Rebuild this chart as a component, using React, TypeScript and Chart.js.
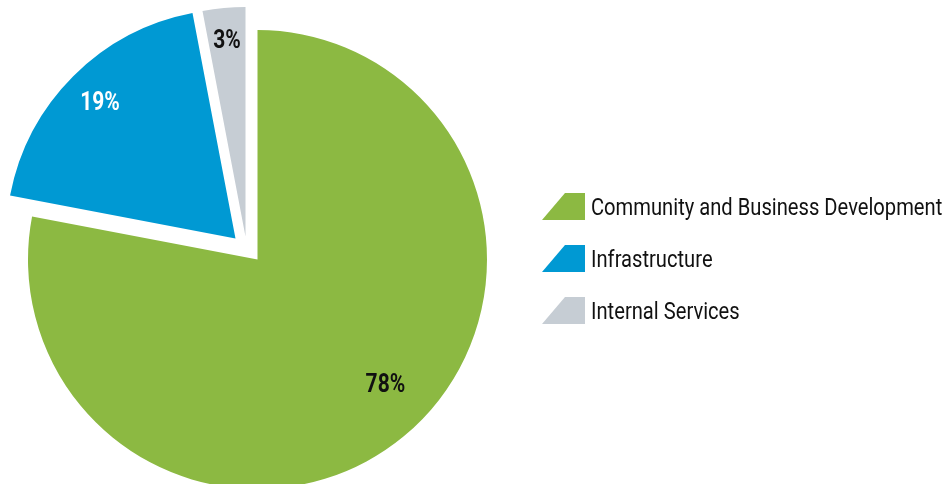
import React, { useEffect, useRef } from "react";
import { Chart, registerables } from "chart.js";

Chart.register(...registerables);

const categories = ["Community and Business Development", "Infrastructure", "Internal Services"];
const shares = [78, 19, 3];
const percentLabels = ["78%", "19%", "3%"];

const sliceColors = ["#8cb942", "#0099d3", "#c6cdd4"];
const labelColors = ["#111111", "#ffffff", "#111111"];
const labelRadiusFactor = [0.78, 0.835, 0.855];
const labelAngleShiftDeg = [-6, 0, 0];
const explode = [
  [0, 0],
  [-22, -21],
  [-12, -23],
];

const FONT = "'Roboto', 'Liberation Sans', sans-serif";
const SQUEEZE = 0.84;

const explodePlugin = {
  id: "explodeVec",
  afterDatasetsUpdate(chart: any) {
    const meta = chart.getDatasetMeta(0);
    meta.data.forEach((el: any, i: number) => {
      el.x += explode[i][0];
      el.y += explode[i][1];
    });
  },
};

const labelPlugin = {
  id: "pctLabels",
  afterDatasetsDraw(chart: any) {
    const ctx = chart.ctx;
    const meta = chart.getDatasetMeta(0);
    meta.data.forEach((el: any, i: number) => {
      const mid = (el.startAngle + el.endAngle) / 2 + (labelAngleShiftDeg[i] * Math.PI) / 180;
      const r = el.outerRadius * labelRadiusFactor[i];
      const x = el.x + Math.cos(mid) * r;
      const y = el.y + Math.sin(mid) * r;
      ctx.save();
      ctx.translate(x, y);
      ctx.scale(SQUEEZE, 1);
      ctx.font = `bold 25px ${FONT}`;
      ctx.textAlign = "center";
      ctx.textBaseline = "middle";
      ctx.fillStyle = labelColors[i];
      ctx.fillText(percentLabels[i], 0, 1);
      ctx.restore();
    });
  },
};

function Marker({ color }: { color: string }) {
  return (
    <svg width={44} height={28} style={{ display: "block" }}>
      <polygon points="0,27 43,27 43,0 23,0" fill={color} />
    </svg>
  );
}

export default function App() {
  const ref = useRef<HTMLCanvasElement | null>(null);
  useEffect(() => {
    if (!ref.current) return;
    const chart = new Chart(ref.current, {
      type: "pie",
      data: {
        labels: categories,
        datasets: [
          {
            data: shares,
            backgroundColor: sliceColors,
            borderWidth: 0,
            hoverBorderWidth: 0,
            hoverOffset: 0,
            offset: 0,
          },
        ],
      },
      options: {
        responsive: false,
        animation: false,
        events: [],
        layout: { padding: { left: 28, right: 458, top: 30, bottom: 5 } },
        plugins: { legend: { display: false }, tooltip: { enabled: false } },
      },
      plugins: [explodePlugin, labelPlugin],
    });
    return () => chart.destroy();
  }, []);

  const legendTops = [193, 245, 297];
  return (
    <div style={{ position: "fixed", left: 0, top: 0, width: 945, height: 484, background: "#fff", overflow: "hidden" }}>
      <canvas ref={ref} width={945} height={494} style={{ position: "absolute", left: 0, top: 0 }} />
      {categories.map((c, i) => (
        <div
          key={c}
          style={{
            position: "absolute",
            left: 542,
            top: legendTops[i],
            height: 28,
            display: "flex",
            alignItems: "center",
            whiteSpace: "nowrap",
          }}
        >
          <Marker color={sliceColors[i]} />
          <span
            style={{
              marginLeft: 5,
              fontFamily: FONT,
              fontSize: 24,
              color: "#111",
              lineHeight: "28px",
              display: "inline-block",
              transform: `scaleX(${SQUEEZE})`,
              transformOrigin: "left center",
            }}
          >
            {c}
          </span>
        </div>
      ))}
    </div>
  );
}
